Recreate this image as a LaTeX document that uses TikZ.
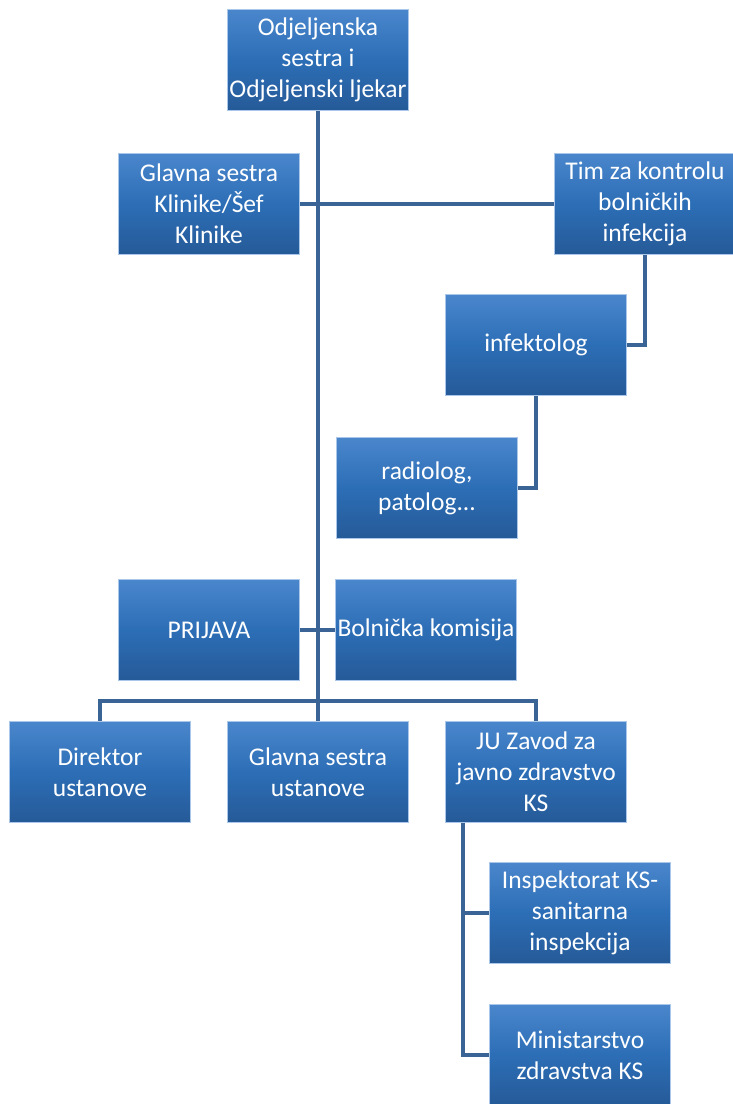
\documentclass[tikz,border=0pt]{standalone}
\usepackage{fontspec}
\setmainfont{Carlito}
\usetikzlibrary{backgrounds}
\definecolor{boxtop}{RGB}{74,134,204}
\definecolor{boxmid}{RGB}{44,110,182}
\definecolor{boxbot}{RGB}{38,90,152}
\definecolor{boxedge}{RGB}{170,198,232}
\definecolor{linkc}{RGB}{58,100,150}
\tikzset{
  orgbox/.style={draw=boxedge, line width=1.2pt, top color=boxtop, bottom color=boxbot, middle color=boxmid,
    minimum width=181pt, minimum height=101pt, inner sep=1pt, align=center, text=white,
    font=\fontsize{25.5}{31}\selectfont},
  link/.style={draw=linkc, line width=3.6pt}
}
\begin{document}
\begin{tikzpicture}[x=1pt,y=-1pt]
\useasboundingbox (0,0) rectangle (732,1104);
\node[orgbox] (top) at (318,60) {Odjeljenska\\sestra i\\Odjeljenski ljekar};
\node[orgbox] (gsk) at (209,204) {Glavna sestra\\Klinike/Šef\\Klinike};
\node[orgbox] (tim) at (645,204) {Tim za kontrolu\\bolničkih\\infekcija};
\node[orgbox] (inf) at (536,345) {infektolog};
\node[orgbox] (rad) at (427,488) {radiolog,\\patolog...};
\node[orgbox] (prij) at (209,630) {PRIJAVA};
\node[orgbox] (bol) at (426,630) {Bolnička komisija};
\node[orgbox] (dir) at (100,772) {Direktor\\ustanove};
\node[orgbox] (gsu) at (318,772) {Glavna sestra\\ustanove};
\node[orgbox] (ju) at (536,772) {JU Zavod za\\javno zdravstvo\\KS};
\node[orgbox] (insp) at (580,913) {Inspektorat KS-\\sanitarna\\inspekcija};
\node[orgbox] (min) at (580,1055) {Ministarstvo\\zdravstva KS};
\coordinate (bus) at (318,701);
\coordinate (jub) at (463,822);
\begin{scope}[on background layer]
\draw[link] (top.south) -- (gsu.north);
\draw[link] (gsk.east) -- (tim.west);
\draw[link] (prij.east) -- (bol.west);
\draw[link] (tim.south) |- (inf.east);
\draw[link] (inf.south) |- (rad.east);
\draw[link] (dir.north) |- (bus) -| (ju.north);
\draw[link] (jub) |- (insp.west);
\draw[link] (jub) |- (min.west);
\end{scope}
\end{tikzpicture}
\end{document}
